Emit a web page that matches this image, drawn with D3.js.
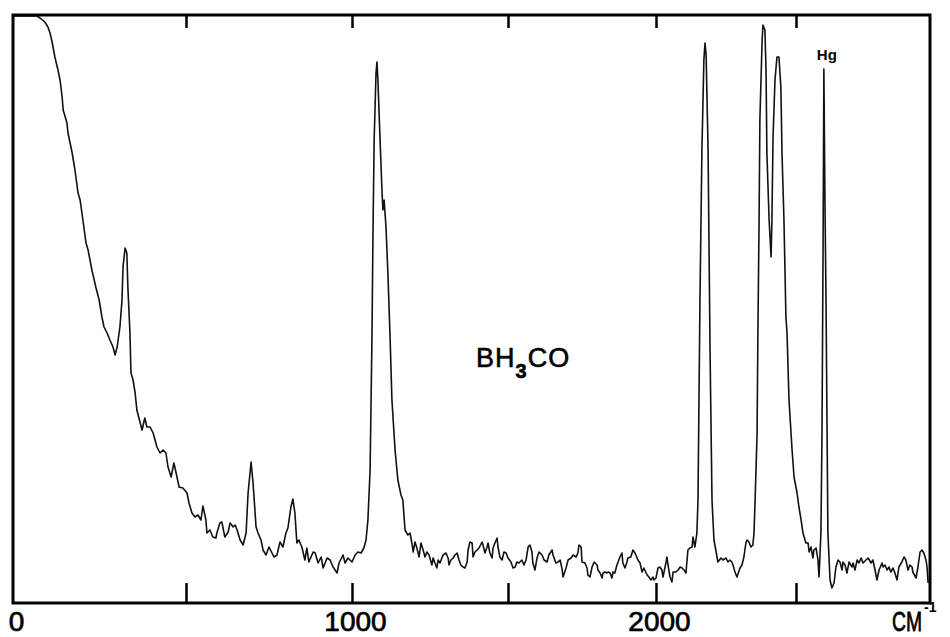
<!DOCTYPE html>
<html>
<head>
<meta charset="utf-8">
<script src="https://cdn.jsdelivr.net/npm/d3@7"></script>
<style>
  html, body { margin: 0; padding: 0; background: #fff; }
  svg { display: block; }
</style>
</head>
<body>
<svg id="chart" width="950" height="637"></svg>
<script>
// Raman shift (cm^-1)
const wavenumbers = [
  0,35,69,78,92,101,107,113,121,130,136,142,145,156,159,165,171,179,188,194,
  202,211,217,228,240,249,257,263,272,280,289,295,301,309,315,318,324,329,332,338,
  341,347,353,358,367,373,381,387,396,405,416,425,434,442,448,457,465,474,480,491,
  503,509,518,527,536,545,551,560,563,572,581,590,593,602,608,617,627,633,642,648,
  654,663,672,681,687,696,702,711,717,726,732,741,750,759,765,774,783,792,801,807,
  816,822,828,834,840,849,858,864,870,883,889,898,907,913,925,934,943,955,961,973,
  979,988,1000,1010,1019,1029,1038,1045,1051,1058,1064,1067,1071,1077,1080,1083,1090,1096,1099,1103,
  1109,1115,1122,1128,1138,1147,1157,1163,1170,1179,1186,1192,1196,1202,1208,1215,1221,1228,1234,1240,
  1247,1256,1260,1266,1272,1276,1282,1288,1292,1301,1308,1311,1317,1324,1330,1337,1343,1349,1356,1362,
  1369,1372,1378,1385,1388,1394,1401,1407,1417,1420,1426,1433,1436,1442,1449,1452,1458,1465,1468,1474,
  1481,1487,1494,1500,1510,1517,1524,1530,1537,1547,1554,1561,1568,1574,1581,1584,1591,1598,1605,1615,
  1622,1632,1638,1649,1652,1662,1669,1676,1682,1686,1696,1703,1713,1720,1730,1736,1740,1747,1750,1760,
  1767,1770,1777,1784,1791,1801,1804,1811,1818,1821,1828,1834,1838,1845,1851,1855,1861,1868,1872,1878,
  1885,1888,1895,1902,1905,1915,1922,1929,1939,1946,1953,1959,1970,1976,1983,1990,1993,2000,2007,2014,
  2021,2025,2036,2039,2043,2050,2057,2061,2071,2079,2086,2093,2100,2107,2114,2121,2129,2132,2139,2146,
  2150,2157,2164,2171,2175,2179,2186,2193,2200,2207,2218,2221,2232,2239,2250,2257,2264,2271,2275,2282,
  2289,2300,2307,2314,2321,2325,2332,2339,2346,2350,2354,2361,2364,2368,2371,2379,2382,2389,2393,2396,
  2404,2411,2414,2418,2425,2432,2439,2446,2450,2457,2464,2468,2475,2486,2493,2504,2511,2519,2526,2537,
  2545,2549,2556,2563,2567,2575,2582,2586,2593,2597,2601,2604,2608,2612,2616,2619,2627,2634,2642,2649,
  2657,2664,2672,2675,2683,2690,2698,2709,2713,2720,2728,2735,2743,2750,2761,2769,2780,2787,2795,2802,
  2810,2821,2825,2832,2840,2847,2854,2862,2869,2877,2884,2895,2903,2910,2918,2925,2933,2936,2948,2955,
  2963,2970,2977,2985,2989,2993
];
// Scattered intensity (arbitrary units)
const intensity = [
  587,587,587,585,581,576,570,561,546,533,523,506,493,480,470,460,450,433,410,403,
  383,360,353,333,315,303,286,276,270,263,256,248,256,276,303,336,355,350,316,270,
  230,223,210,193,181,173,185,176,176,170,156,150,153,150,136,126,140,126,116,115,
  110,100,90,86,88,83,97,83,70,73,66,65,70,80,81,66,71,80,76,78,
  73,63,58,70,110,141,120,76,70,63,53,48,56,50,46,48,61,56,70,75,
  96,104,90,60,63,56,43,55,41,51,50,40,46,35,45,43,36,30,40,48,
  40,45,41,48,51,50,55,63,83,133,266,363,463,530,541,523,463,413,393,403,
  376,330,266,203,153,123,108,103,73,68,70,60,51,61,55,46,60,53,46,51,
  48,38,45,40,35,43,40,45,48,50,45,38,43,45,48,50,43,38,36,35,
  41,53,61,60,46,51,53,55,61,58,50,56,60,50,45,55,60,65,56,46,
  43,51,50,45,41,35,36,41,40,43,38,43,56,58,51,40,33,45,51,48,
  43,41,48,53,48,40,41,43,35,26,35,43,45,48,46,50,58,56,41,40,
  35,28,26,36,41,38,33,30,25,30,31,30,31,30,25,31,30,38,41,46,
  50,40,35,41,45,46,53,50,43,40,31,35,28,26,23,26,23,25,35,36,
  33,26,41,46,38,26,21,31,31,33,36,35,33,30,53,55,56,66,56,70,
  103,303,453,543,560,548,453,253,103,63,46,41,45,43,45,41,43,41,38,31,
  26,35,38,46,60,63,61,56,58,70,103,170,273,378,483,563,578,573,533,450,
  383,346,383,466,523,546,546,516,450,383,286,270,203,153,126,110,96,83,70,60,
  60,51,56,45,53,55,43,26,70,170,353,534,403,303,170,70,23,15,20,36,
  43,41,33,41,38,30,41,36,40,33,43,40,45,40,43,45,40,43,33,23,
  33,40,36,38,33,36,31,35,30,23,36,41,46,43,33,38,36,31,25,36,
  51,53,50,43,36,20
];
const axisTicks = [500, 1000, 1500, 2000, 2500];
const axisLabels = [0, 1000, 2000];
const compoundLabel = ["BH", "3", "CO"];
const lineLabel = "Hg";
const unitLabel = ["CM", "-1"];

const svg = d3.select("#chart");
const frameL = 13, frameR = 930, frameT = 15, frameB = 603;
const labelFont = "'Liberation Sans', Arial, sans-serif";

// Chart paper is not linear in wavenumber: piecewise scale from the printed ticks
const x = d3.scaleLinear()
  .domain([0, 500, 1000, 1500, 2000, 2500, 3000])
  .range([frameL, 186, 352, 508, 656, 796, frameR]);
const y = d3.scaleLinear().domain([0, 588]).range([frameB, frameT]);

const data = wavenumbers.map((w, i) => ({ w, v: intensity[i] }));

// spectrum trace
svg.append("path")
  .datum(data)
  .attr("fill", "none")
  .attr("stroke", "#111")
  .attr("stroke-width", 1.6)
  .attr("stroke-linejoin", "round")
  .attr("d", d3.line().x(d => x(d.w)).y(d => y(d.v)));

// frame
svg.append("rect")
  .attr("x", frameL).attr("y", frameT)
  .attr("width", frameR - frameL).attr("height", frameB - frameT)
  .attr("fill", "none").attr("stroke", "#000").attr("stroke-width", 3);

// bottom tick marks (pointing up)
const bAxis = svg.append("g")
  .attr("transform", `translate(0,${frameB})`)
  .call(d3.axisBottom(x).tickValues(axisTicks).tickSize(-20).tickFormat(""));
bAxis.select(".domain").remove();
bAxis.selectAll("line").attr("stroke", "#000").attr("stroke-width", 2.5);

// top tick marks (pointing down)
const tAxis = svg.append("g")
  .attr("transform", `translate(0,${frameT})`)
  .call(d3.axisTop(x).tickValues(axisTicks).tickSize(-13).tickFormat(""));
tAxis.select(".domain").remove();
tAxis.selectAll("line").attr("stroke", "#000").attr("stroke-width", 2.5);

// tick labels
const lAxis = svg.append("g")
  .attr("transform", `translate(0,${frameB})`)
  .call(d3.axisBottom(x).tickValues(axisLabels).tickSize(0).tickPadding(0).tickFormat(d3.format("d")));
lAxis.select(".domain").remove();
lAxis.selectAll("text")
  .attr("font-family", labelFont)
  .attr("font-size", 28)
  .attr("fill", "#000")
  .attr("stroke", "#000").attr("stroke-width", 0.7)
  .attr("y", 28)
  .attr("dy", 0)
  .attr("dx", 3);

// unit label CM^-1 (two separate texts; CM is condensed as on the chart)
svg.append("text")
  .attr("transform", "translate(892,631) scale(0.69,1)")
  .attr("font-family", labelFont)
  .attr("font-size", 28).attr("fill", "#000")
  .attr("stroke", "#000").attr("stroke-width", 0.8)
  .text(unitLabel[0]);
svg.append("text")
  .attr("x", 924).attr("y", 612)
  .attr("font-family", labelFont)
  .attr("font-size", 14).attr("font-weight", "bold").attr("fill", "#000")
  .text(unitLabel[1]);

// compound label
const comp = svg.append("text")
  .attr("x", 476).attr("y", 367)
  .attr("font-family", labelFont)
  .attr("font-size", 27).attr("letter-spacing", 1).attr("fill", "#000")
  .attr("stroke", "#000").attr("stroke-width", 0.6);
comp.append("tspan").text(compoundLabel[0]);
comp.append("tspan").attr("font-size", 20).attr("dy", 11).attr("font-weight", "bold").text(compoundLabel[1]);
comp.append("tspan").attr("dy", -11).text(compoundLabel[2]);

// Hg label
svg.append("text")
  .attr("x", x(2604) + 3).attr("y", 60)
  .attr("text-anchor", "middle")
  .attr("font-family", labelFont)
  .attr("font-weight", "bold")
  .attr("font-size", 15).attr("fill", "#000")
  .text(lineLabel);
</script>
</body>
</html>
